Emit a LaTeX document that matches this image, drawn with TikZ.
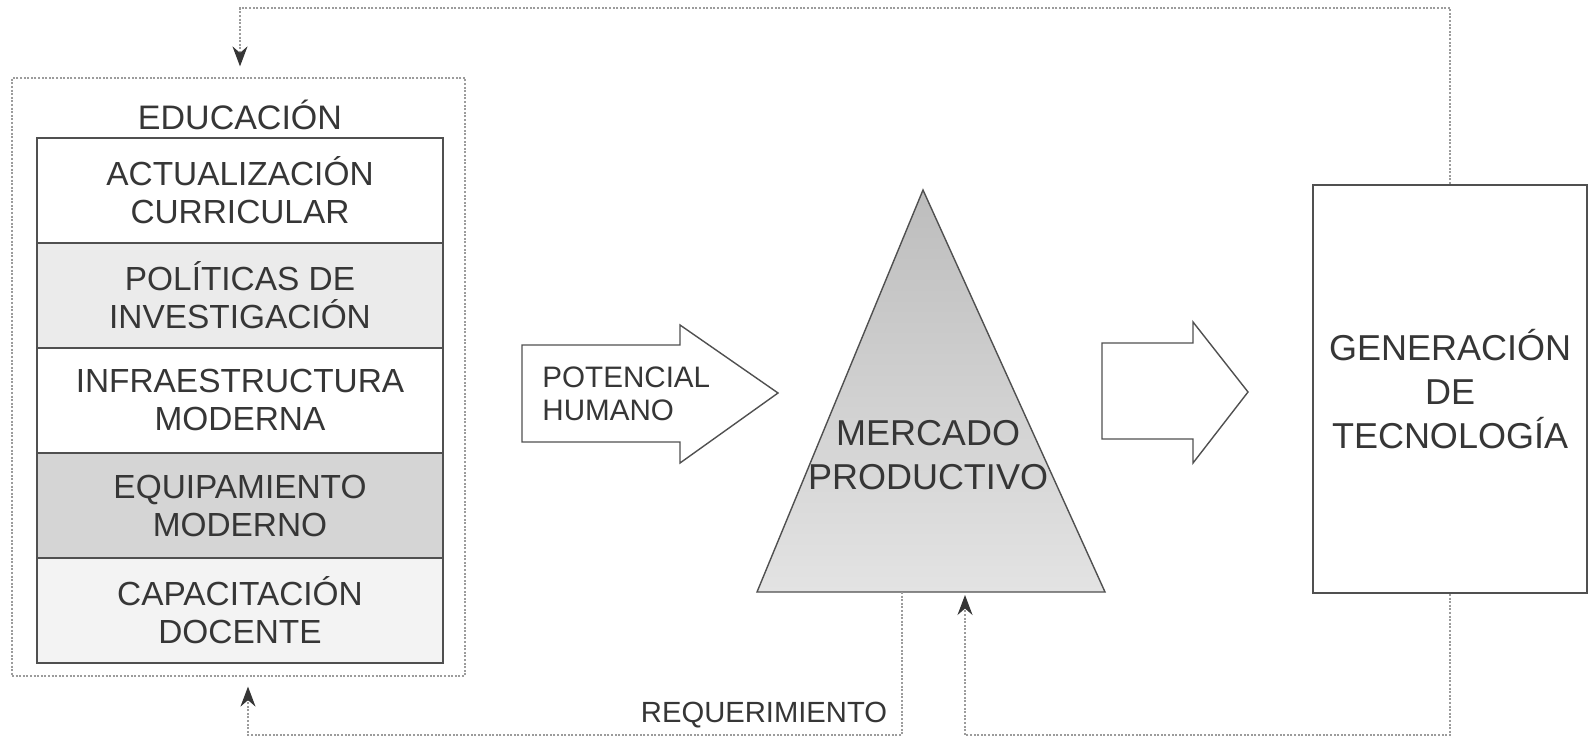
\documentclass[tikz,border=0pt]{standalone}
\usepackage{fontspec}
\setmainfont{Liberation Sans}
\usetikzlibrary{arrows.meta}
\definecolor{txt}{HTML}{363636}
\definecolor{edge}{HTML}{505050}
\definecolor{dots}{HTML}{9c9c9c}
\definecolor{gtwo}{HTML}{EBEBEB}
\definecolor{gfour}{HTML}{D5D5D5}
\definecolor{gfive}{HTML}{F3F3F3}
\definecolor{trtop}{HTML}{BDBDBD}
\definecolor{trbot}{HTML}{E3E3E3}
\begin{document}
\begin{tikzpicture}[x=0.5pt,y=-0.5pt,
  item/.style={draw=edge, line width=0.8pt, minimum width=203pt, minimum height=52.5pt,
    inner sep=0pt, align=center, text=txt, font=\fontsize{16.7}{19}\selectfont},
  conn/.style={draw=dots, line width=0.6pt, dash pattern=on 1pt off 0.8pt},
  tipped/.style={-{Stealth[length=10pt,width=7.5pt,color=txt]}},
  blockarrow/.style={draw=edge, line width=0.7pt, fill=white},
  lbl/.style={text=txt, inner sep=0pt}
]
\useasboundingbox[fill=white] (0,0) rectangle (1593,737);

% Education block
\node[conn, minimum width=226.5pt, minimum height=299pt, inner sep=0pt] (edu) at (238.5,377) {};
\node[lbl, font=\fontsize{17}{20}\selectfont] (edut) at (240,115) {EDUCACIÓN};
\node[item, fill=white] (b1) at (240,190.5) {ACTUALIZACIÓN\\CURRICULAR};
\node[item, fill=gtwo]  (b2) at (240,295.5) {POLÍTICAS DE\\INVESTIGACIÓN};
\node[item, fill=white] (b3) at (240,400.5) {INFRAESTRUCTURA\\MODERNA};
\node[item, fill=gfour] (b4) at (240,505.5) {EQUIPAMIENTO\\MODERNO};
\node[item, fill=gfive] (b5) at (240,610.5) {CAPACITACIÓN\\DOCENTE};

% Potencial humano arrow
\draw[blockarrow] (522,345) -- (680,345) -- (680,325) -- (778,393) -- (680,463) -- (680,442) -- (522,442) -- cycle;
\node[lbl, anchor=west, align=left, font=\fontsize{14.8}{16.5}\selectfont] (pot) at (542,393.5) {POTENCIAL\\HUMANO};

% Triangle
\coordinate (apex) at (923,190);
\coordinate (bl) at (757,592);
\coordinate (br) at (1105,592);
\draw[draw=edge, line width=0.7pt, top color=trtop, bottom color=trbot] (apex) -- (bl) -- (br) -- cycle;
\node[lbl, align=center, font=\fontsize{18}{22}\selectfont] (merc) at (928,455) {MERCADO\\PRODUCTIVO};

% Right arrow
\draw[blockarrow] (1102,343) -- (1193,343) -- (1193,322) -- (1248,392) -- (1193,463) -- (1193,439) -- (1102,439) -- cycle;

% Generacion box
\node[draw=edge, line width=0.9pt, fill=white, minimum width=137pt, minimum height=204pt,
  inner sep=0pt, align=center, text=txt, font=\fontsize{18}{22}\selectfont] (gen) at (1450,389)
  {GENERACIÓN\\DE\\TECNOLOGÍA};

% Connectors
\coordinate (topL) at (240,8);
\coordinate (tb1) at (902,592);
\coordinate (botL) at (248,735);
\coordinate (tb2) at (965,592);
\coordinate (botR) at (965,735);

\draw[conn, tipped, shorten >=5.5pt] (gen.north) |- (topL) -- (topL |- edu.north);
\draw[conn, tipped, shorten >=5pt] (tb1) |- (botL) -- (botL |- edu.south);
\draw[conn, tipped, shorten >=1.5pt] (gen.south) |- (botR) -- (tb2);

\node[lbl, font=\fontsize{14.6}{17}\selectfont] (req) at (764,715) {REQUERIMIENTO};
\end{tikzpicture}
\end{document}
